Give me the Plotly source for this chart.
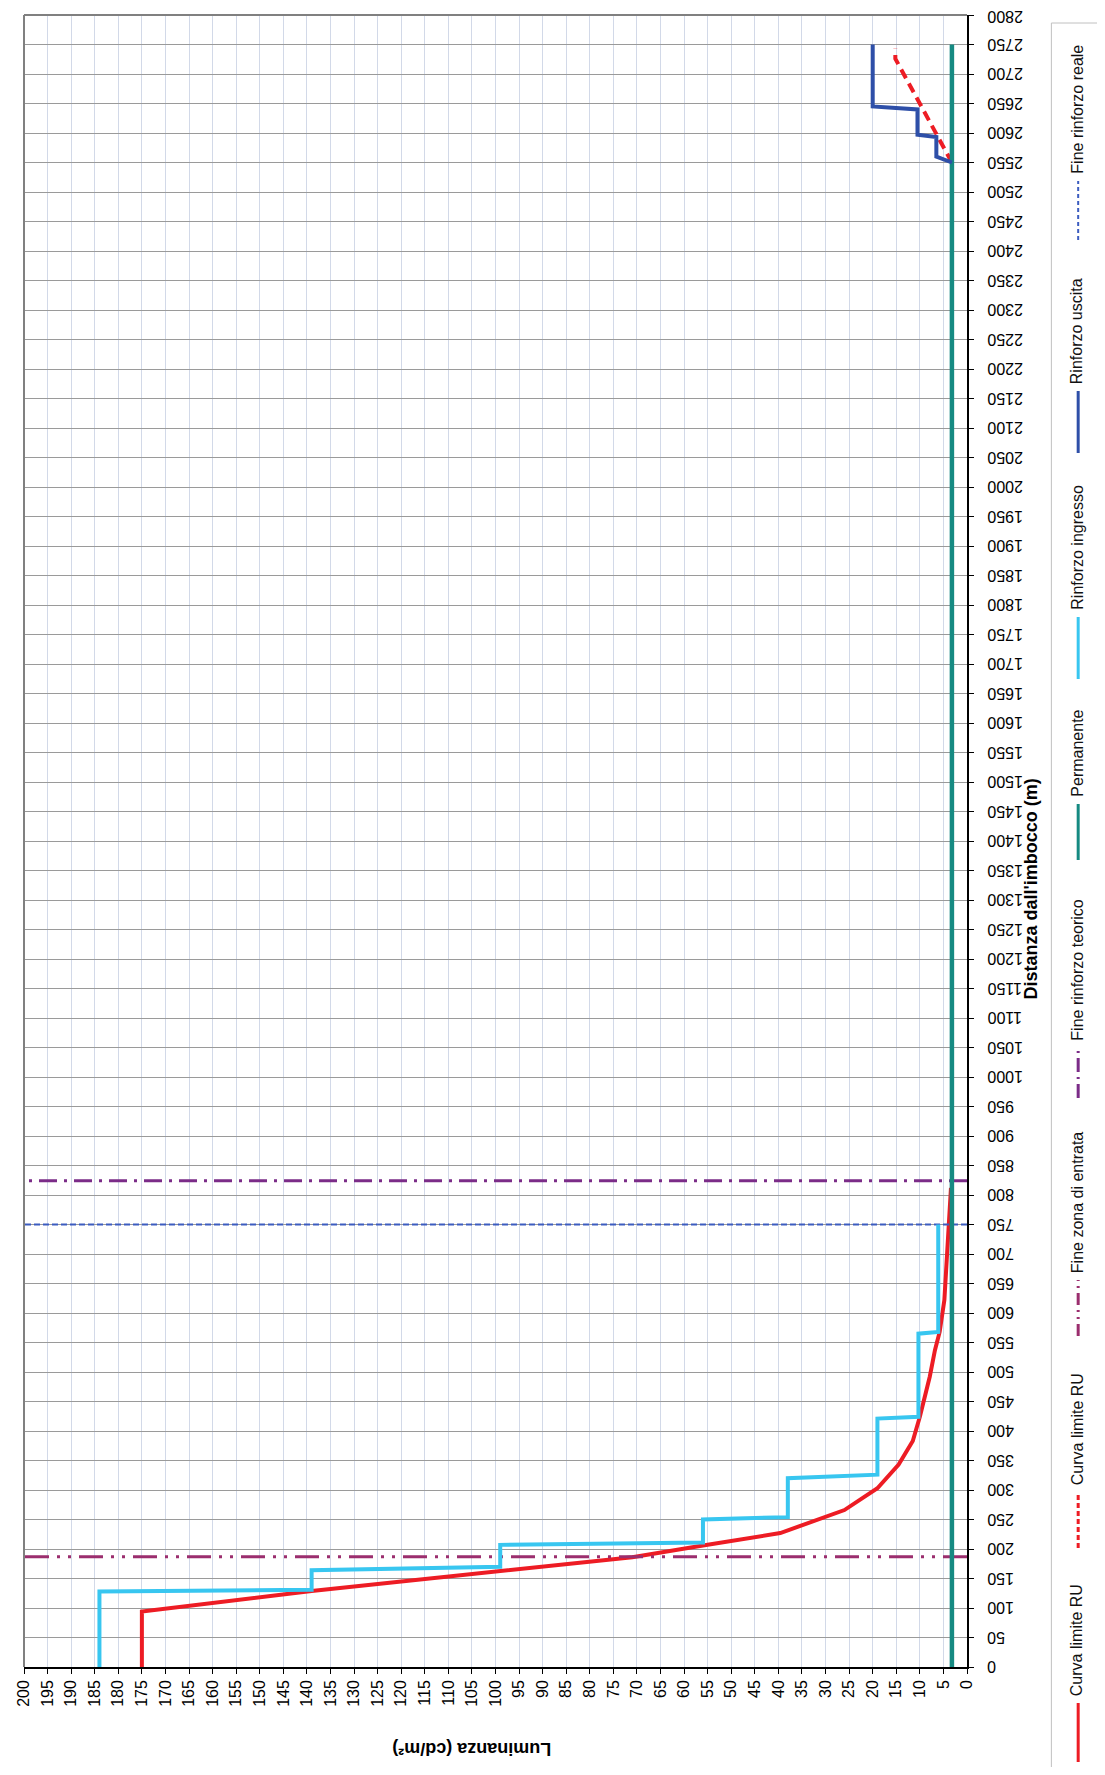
import plotly.graph_objects as go

# ---------------- data ----------------
# distance from tunnel entrance (m) and luminance (cd/m2)
dist_ru = [0, 94, 129, 162, 186, 206, 227, 266, 303, 343, 383, 424, 492, 537, 568, 622, 684, 746, 812]
lum_ru = [175, 175, 139, 99.5, 71, 56, 39.6, 26, 19, 14.5, 11.5, 10, 7.9, 6.8, 5.8, 4.8, 4.4, 3.9, 3.4]

dist_ru_exit = [2550, 2600, 2650, 2700, 2726, 2743]
lum_ru_exit = [3.2, 6.6, 10.1, 13.6, 15.2, 15.2]

dist_in = [0, 128, 131, 164, 170, 207, 211, 250, 254, 320, 326, 421, 424, 565, 568, 750]
lum_in = [184, 184, 139, 139, 99, 99, 56, 56, 38, 38, 19, 19, 10.3, 10.3, 6.1, 6.1]

dist_out = [2550, 2560, 2593, 2597, 2640, 2645, 2750]
lum_out = [3.2, 6.5, 6.5, 10.5, 10.5, 20, 20]

dist_perm = [0, 2750]
lum_perm = [3.2, 3.2]

fine_zona_entrata = 187
fine_rinforzo_teorico = 824
fine_rinforzo_reale = 750
lum_span = [0, 200]

dist_ticks = list(range(0, 2801, 50))
lum_ticks = list(range(0, 201, 5))

legend_labels = ["Curva limite RU", "Curva limite RU", "Fine zona di entrata",
                 "Fine rinforzo teorico", "Permanente", "Rinforzo ingresso",
                 "Rinforzo uscita", "Fine rinforzo reale"]

# ---------------- styles ----------------
RED = "#ED1C24"
LBLUE = "#38C6F0"
TEAL = "#168A82"
DBLUE = "#2E4FA8"
DASHBLUE = "#3C5CC0"
PURPLE = "#7B2C88"
MAGENTA = "#9B2E6E"
FONT = "Liberation Sans, Arial, sans-serif"

DASH_RU_EXIT = "10px,6px"
DASH_ZONA = "24px,8px,3px,8px,3px,8px"
DASH_TEORICO = "18px,7px,3px,7px"
DASH_REALE = "6px,3px"

OFF = 8  # default page body margin
W, H = 1105 - 2 * OFF, 1775 - 2 * OFF
# plot area in page pixels
PL, PR, PT, PB = 17, 967, 15, 1667
L, R, T, B = PL - OFF, PR - OFF, PT - OFF, PB - OFF


def px(x):
    return (x - PL) / (PR - PL)


def py(y):
    return (PB - y) / (PB - PT)


fig = go.Figure()

fig.add_trace(go.Scatter(x=lum_ru, y=dist_ru, mode="lines",
                         line=dict(color=RED, width=4)))
fig.add_trace(go.Scatter(x=lum_ru_exit, y=dist_ru_exit, mode="lines",
                         line=dict(color=RED, width=4, dash=DASH_RU_EXIT)))
fig.add_trace(go.Scatter(x=lum_span, y=[fine_zona_entrata] * 2, mode="lines",
                         line=dict(color=MAGENTA, width=3, dash=DASH_ZONA)))
fig.add_trace(go.Scatter(x=lum_span, y=[fine_rinforzo_teorico] * 2, mode="lines",
                         line=dict(color=PURPLE, width=3, dash=DASH_TEORICO)))
fig.add_trace(go.Scatter(x=lum_span, y=[fine_rinforzo_reale] * 2, mode="lines",
                         line=dict(color=DASHBLUE, width=2, dash=DASH_REALE)))
fig.add_trace(go.Scatter(x=lum_perm, y=dist_perm, mode="lines",
                         line=dict(color=TEAL, width=4.5)))
fig.add_trace(go.Scatter(x=lum_in, y=dist_in, mode="lines",
                         line=dict(color=LBLUE, width=4)))
fig.add_trace(go.Scatter(x=lum_out, y=dist_out, mode="lines",
                         line=dict(color=DBLUE, width=4)))

annotations = []
# distance tick labels (upside down, as in the reference)
for v in dist_ticks:
    annotations.append(dict(x=1, xref="paper", y=v, yref="y", xshift=19,
                            yshift=-2 if v == dist_ticks[-1] else 0,
                            xanchor="left", yanchor="middle", showarrow=False,
                            text=str(v), textangle=180, borderpad=0,
                            font=dict(family=FONT, size=16, color="black")))
# axis titles
annotations.append(dict(x=px(1031), y=py(889), xref="paper", yref="paper",
                        text="<b>Distanza dall'imbocco (m)</b>", textangle=-90,
                        showarrow=False, xanchor="center", yanchor="middle",
                        font=dict(family=FONT, size=18, color="black")))
annotations.append(dict(x=px(468), y=py(1749), xref="paper", yref="paper",
                        text="<b>Luminanza (cd/m²)</b>", textangle=180,
                        showarrow=False, xanchor="center", yanchor="middle",
                        font=dict(family=FONT, size=18, color="black")))

shapes = []
# frame (left / top gray)
shapes.append(dict(type="line", xref="paper", yref="paper", x0=0, x1=0, y0=0, y1=1,
                   line=dict(color="#808080", width=2)))
shapes.append(dict(type="line", xref="paper", yref="paper", x0=0, x1=1, y0=1, y1=1,
                   line=dict(color="#808080", width=2)))
# legend box
shapes.append(dict(type="rect", xref="paper", yref="paper",
                   x0=px(1052), x1=px(1115), y0=py(1790), y1=py(23),
                   line=dict(color="#c0c0c0", width=1), fillcolor="rgba(0,0,0,0)"))

legend_style = [
    (RED, 3, "solid"), (RED, 3, "5px,3px"),
    (MAGENTA, 3, "12px,5px,2px,5px,2px,5px"), (PURPLE, 3, "14px,5px,2px,5px"),
    (TEAL, 3, "solid"), (LBLUE, 3, "solid"), (DBLUE, 3, "solid"), (DASHBLUE, 2, "4px,3px"),
]
legend_pos = [  # (symbol bottom, symbol top) in page pixels
    (1762, 1703), (1548, 1492), (1336, 1280), (1098, 1048),
    (860, 804), (679, 617), (453, 391), (240, 181),
]
xl = px(1079)
for lab, (col, w, dash), (yb, yt) in zip(legend_labels, legend_style, legend_pos):
    shapes.append(dict(type="line", xref="paper", yref="paper", x0=xl, x1=xl,
                       y0=py(yb), y1=py(yt), line=dict(color=col, width=w, dash=dash)))
    annotations.append(dict(x=px(1078), y=py(yt - 5), xref="paper", yref="paper",
                            text=lab, textangle=-90, showarrow=False,
                            xanchor="center", yanchor="bottom",
                            font=dict(family=FONT, size=16, color="#111111")))

fig.update_layout(
    width=W, height=H, autosize=False,
    margin=dict(l=L, r=W - R, t=T, b=H - B, pad=0),
    paper_bgcolor="white", plot_bgcolor="white",
    showlegend=False,
    font=dict(family=FONT, size=16, color="black"),
    xaxis=dict(range=[200, 0], tickmode="array", tickvals=lum_ticks,
               ticktext=[str(v) for v in lum_ticks], tickangle=-90,
               ticks="outside", ticklen=5, tickcolor="black",
               showline=True, linecolor="black", linewidth=1.5,
               showgrid=True, gridcolor="#d2d9e8", gridwidth=1,
               zeroline=False, tickfont=dict(family=FONT, size=16, color="black")),
    yaxis=dict(range=[0, 2800], side="right", tickmode="array", tickvals=dist_ticks,
               showticklabels=False, ticks="outside", ticklen=5, tickcolor="black",
               showline=True, linecolor="black", linewidth=1.5,
               showgrid=True, gridcolor="#9a9a9a", gridwidth=1, zeroline=False),
    annotations=annotations,
    shapes=shapes,
)

fig.write_html("out.html")
